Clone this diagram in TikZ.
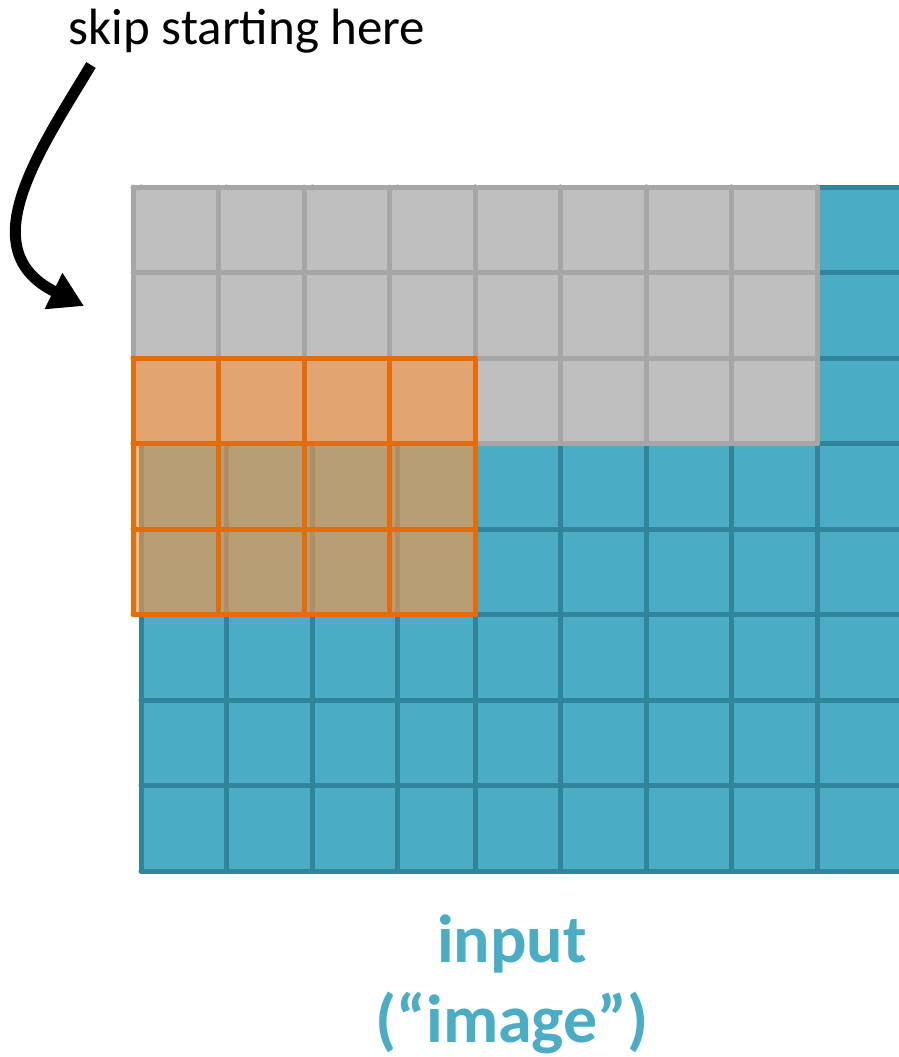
\documentclass[tikz,border=0pt]{standalone}
\usepackage{fontspec}
\setmainfont{Carlito}
\usetikzlibrary{arrows.meta}

\definecolor{inputfill}{HTML}{4BACC6}
\definecolor{inputline}{HTML}{31859B}
\definecolor{skipfill}{HTML}{BFBFBF}
\definecolor{skipline}{HTML}{A6A6A6}
\definecolor{windowfill}{HTML}{F79646}
\definecolor{windowline}{HTML}{E46C0A}

\begin{document}
\begin{tikzpicture}[x=1pt, y=-1pt,
    gridline/.style={line width=5pt, line cap=round, line join=round},
    skiplabel/.style={font=\fontsize{51}{60}\selectfont},
    inputlabel/.style={font=\bfseries\fontsize{68}{80}\selectfont, text=inputfill, align=center}]
    \useasboundingbox (0,0) rectangle (899,1057);

    \begin{scope}
      \clip (0,0) rectangle (899,1057);
      % input grid, left block sits a bit to the right
      \fill[inputfill] (141,187) rectangle (930,871);
      \foreach \x in {141,226.5,312,397.5}
        \draw[gridline, inputline] (\x,187) -- (\x,871);
      \foreach \x in {475,560.5,646,731.5,817}
        \draw[gridline, inputline] (\x,187) -- (\x,871);
      \foreach \y in {187,272.5,358,443.5,529,614.5,700,785.5,871}
        \draw[gridline, inputline] (141,\y) -- (930,\y);
    \end{scope}

    % skipped rows
    \fill[skipfill] (133,187) rectangle (817,443.5);
    \foreach \x in {133,218.5,304,389.5,475,560.5,646,731.5,817}
      \draw[gridline, skipline] (\x,187) -- (\x,443.5);
    \foreach \y in {187,272.5,358,443.5}
      \draw[gridline, skipline] (133,\y) -- (817,\y);

    % window
    \fill[windowfill, fill opacity=0.63] (133,358) rectangle (475,614.5);
    \foreach \x in {133,218.5,304,389.5,475}
      \draw[gridline, windowline] (\x,358) -- (\x,614.5);
    \foreach \y in {358,443.5,529,614.5}
      \draw[gridline, windowline] (133,\y) -- (475,\y);

    \node[skiplabel] (skip) at (247,31) {skip starting here};
    \node[inputlabel] (input) at (512,984) {input\\(“image”)};

    \coordinate (from) at (91,65);
    \coordinate (to) at (84,306);
    \draw[line width=11pt, -{Triangle[length=34pt, width=38pt]}]
      (from) .. controls (40,150) and (-30,250) .. (to);
\end{tikzpicture}
\end{document}
